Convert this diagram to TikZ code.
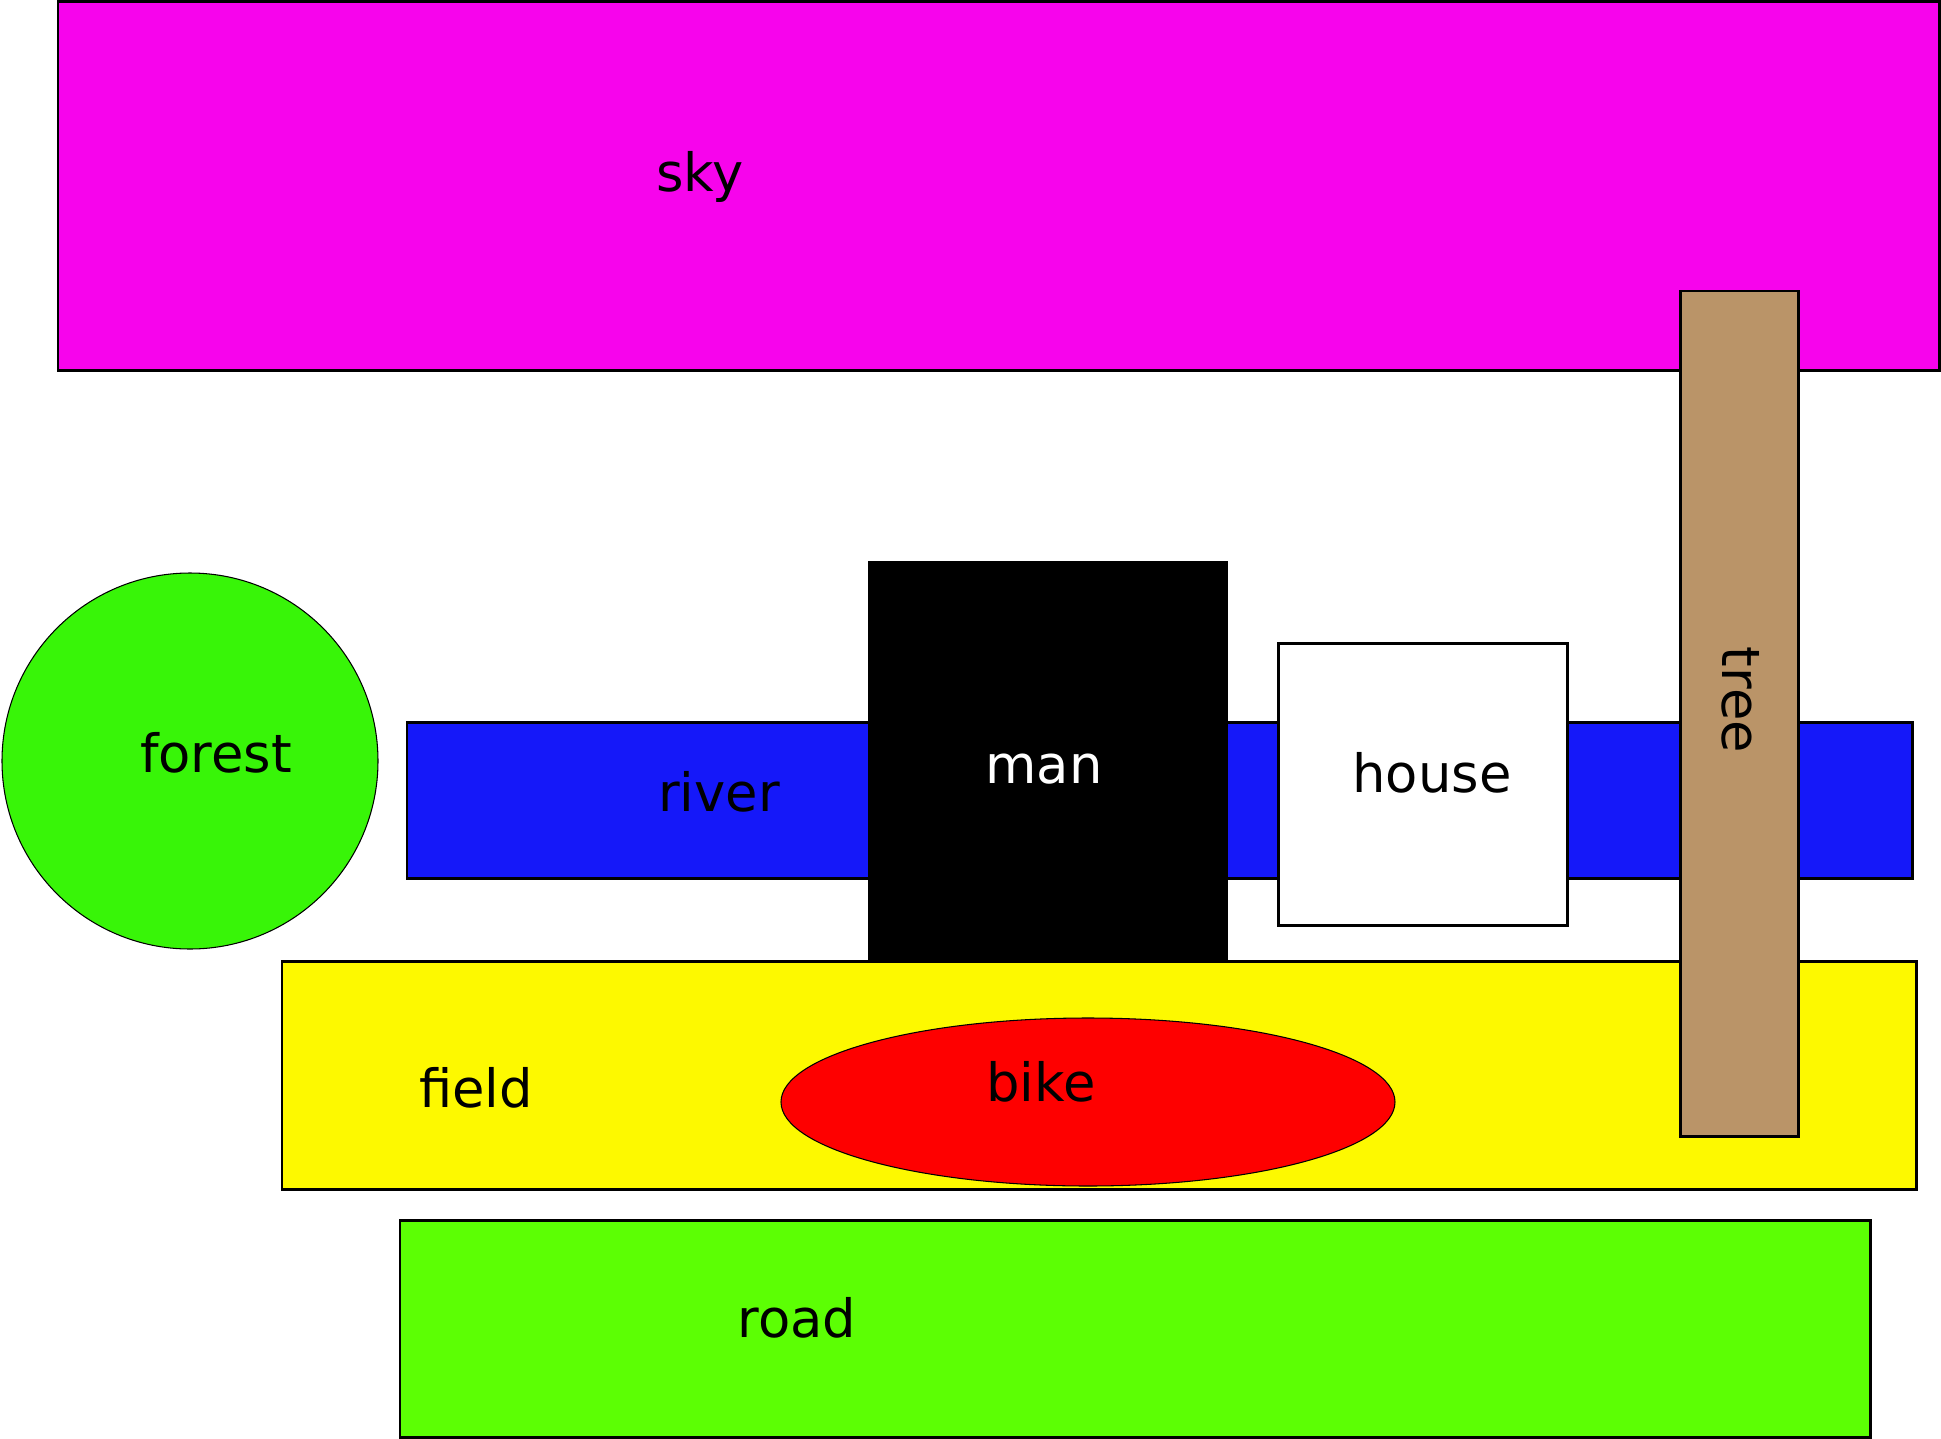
\documentclass[tikz,border=0pt]{standalone}
\usepackage{fontspec}
\setmainfont{DejaVu Sans}
\usepackage{xcolor}
\definecolor{skycol}{HTML}{F704EC}
\definecolor{treecol}{HTML}{BA9468}
\definecolor{forestcol}{HTML}{38F508}
\definecolor{rivercol}{HTML}{1518F9}
\definecolor{fieldcol}{HTML}{FDF900}
\definecolor{bikecol}{HTML}{FE0000}
\definecolor{roadcol}{HTML}{5CFF04}

\begin{document}
\begin{tikzpicture}[x=0.01cm, y=-0.01cm,
  area/.style={draw, line width=0.85pt},
  blob/.style={draw, line width=0.3pt},
  lbl/.style={anchor=base, inner sep=0pt, font=\fontsize{15}{18}\selectfont}
]
\useasboundingbox (0,0) rectangle (1941,1439);

\draw[area, fill=skycol] (58,1.5) rectangle (1939,370);
\node[lbl] (skylabel) at (700,191) {sky};

\draw[blob, fill=forestcol] (190,761) circle [radius=188];
\node[lbl] (forestlabel) at (216,772) {forest};

\draw[area, fill=rivercol] (407,722) rectangle (1912,878);
\node[lbl] (riverlabel) at (719,811) {river};

\fill[black] (868,561) rectangle (1228,961);
\node[lbl, text=white] (manlabel) at (1044,783) {man};

\draw[area, fill=white] (1278,643) rectangle (1567,925);
\node[lbl] (houselabel) at (1432,792) {house};

\draw[area, fill=fieldcol] (282,961) rectangle (1916,1189);
\node[lbl] (fieldlabel) at (476,1107) {field};

\draw[blob, fill=bikecol] (1088,1102) ellipse [x radius=307, y radius=84];
\node[lbl] (bikelabel) at (1041,1101) {bike};

\draw[area, fill=roadcol] (400,1220) rectangle (1870,1437);
\node[lbl] (roadlabel) at (797,1337) {road};

\draw[area, fill=treecol] (1680,291) rectangle (1798,1136);
\node[lbl, anchor=center, rotate=-90] (treelabel) at (1741,700) {tree};

\end{tikzpicture}
\end{document}
